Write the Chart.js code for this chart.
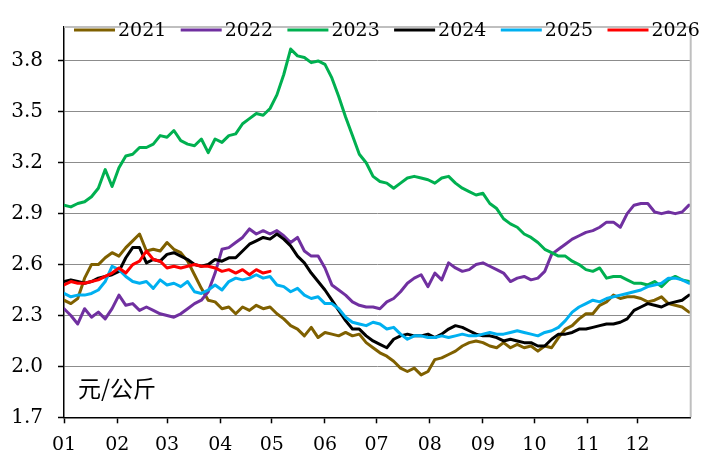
<!DOCTYPE html>
<html><head><meta charset="utf-8">
<script src="https://cdn.jsdelivr.net/npm/chart.js@4.4.1/dist/chart.umd.min.js"></script>
<style>html,body{margin:0;padding:0;background:#fff;}#wrap{width:709px;height:472px;position:relative;}</style>
</head><body><div id="wrap"><canvas id="c"></canvas></div>
<script>
// day of year for each sample
const days = [0,4,8,12,16,20,24,28,32,36,40,44,48,52,56,60,64,68,72,76,80,84,88,92,96,100,104,108,112,116,120,124,128,132,136,140,144,148,152,156,160,164,168,172,176,180,184,188,192,196,200,204,208,212,216,220,224,228,232,236,240,244,248,252,256,260,264,268,272,276,280,284,288,292,296,300,304,308,312,316,320,324,328,332,336,340,344,348,352,356,360,364];
const monthTicks = [0,31,60,91,121,152,182,213,244,274,305,334];
const monthLabels = ['01','02','03','04','05','06','07','08','09','10','11','12'];
const yTicks = [1.7,2.0,2.3,2.6,2.9,3.2,3.5,3.8];
const seriesNames = ['2021','2022','2023','2024','2025','2026'];
const seriesColors = ['#7F6000','#7030A0','#00B050','#000000','#00B0F0','#FF0000'];
const unitLabel = '元/公斤';

const v2021 = [2.39,2.37,2.40,2.52,2.60,2.60,2.64,2.67,2.65,2.70,
2.74,2.78,2.68,2.69,2.68,2.73,2.69,2.67,2.62,2.54,
2.46,2.39,2.38,2.34,2.35,2.31,2.35,2.33,2.36,2.34,
2.35,2.31,2.28,2.24,2.22,2.18,2.23,2.17,2.20,2.19,
2.18,2.20,2.18,2.19,2.14,2.11,2.08,2.06,2.03,1.99,
1.97,1.99,1.95,1.97,2.04,2.05,2.07,2.09,2.12,2.14,
2.15,2.14,2.12,2.11,2.14,2.11,2.13,2.11,2.12,2.09,
2.12,2.11,2.17,2.22,2.24,2.28,2.31,2.31,2.36,2.38,
2.42,2.40,2.41,2.41,2.40,2.38,2.39,2.41,2.37,2.36,
2.35,2.32];
const v2022 = [2.34,2.30,2.25,2.34,2.29,2.32,2.28,2.34,2.42,2.36,
2.37,2.33,2.35,2.33,2.31,2.30,2.29,2.31,2.34,2.37,
2.39,2.44,2.55,2.69,2.70,2.73,2.76,2.81,2.78,2.80,
2.78,2.80,2.77,2.73,2.76,2.68,2.65,2.65,2.58,2.48,
2.45,2.42,2.38,2.36,2.35,2.35,2.34,2.38,2.40,2.44,
2.49,2.52,2.54,2.47,2.55,2.51,2.61,2.58,2.56,2.57,
2.60,2.61,2.59,2.57,2.55,2.50,2.52,2.53,2.51,2.52,
2.56,2.66,2.69,2.72,2.75,2.77,2.79,2.80,2.82,2.85,
2.85,2.82,2.90,2.95,2.96,2.96,2.91,2.90,2.91,2.90,
2.91,2.95];
const v2023 = [2.95,2.94,2.96,2.97,3.00,3.05,3.16,3.06,3.17,3.24,
3.25,3.29,3.29,3.31,3.36,3.35,3.39,3.33,3.31,3.30,
3.34,3.26,3.34,3.32,3.36,3.37,3.43,3.46,3.49,3.48,
3.52,3.60,3.72,3.87,3.83,3.82,3.79,3.80,3.78,3.70,
3.59,3.47,3.36,3.25,3.20,3.12,3.09,3.08,3.05,3.08,
3.11,3.12,3.11,3.10,3.08,3.11,3.12,3.08,3.05,3.03,
3.01,3.02,2.96,2.93,2.87,2.84,2.82,2.78,2.76,2.73,
2.69,2.67,2.65,2.65,2.62,2.60,2.57,2.56,2.58,2.52,
2.53,2.53,2.51,2.49,2.49,2.48,2.50,2.47,2.51,2.53,
2.51,2.50];
const v2024 = [2.50,2.51,2.50,2.49,2.50,2.52,2.53,2.54,2.56,2.64,
2.70,2.70,2.61,2.63,2.62,2.66,2.67,2.65,2.63,2.60,
2.59,2.60,2.63,2.62,2.64,2.64,2.68,2.72,2.74,2.76,
2.75,2.78,2.75,2.71,2.65,2.61,2.55,2.50,2.45,2.39,
2.33,2.27,2.22,2.22,2.18,2.15,2.13,2.11,2.16,2.18,
2.19,2.18,2.18,2.19,2.17,2.19,2.22,2.24,2.23,2.21,
2.19,2.18,2.18,2.17,2.15,2.16,2.15,2.14,2.14,2.12,
2.12,2.16,2.19,2.19,2.20,2.22,2.22,2.23,2.24,2.25,
2.25,2.26,2.28,2.33,2.35,2.37,2.36,2.35,2.37,2.38,
2.39,2.42];
const v2025 = [2.43,2.41,2.42,2.42,2.43,2.45,2.50,2.59,2.57,2.53,
2.50,2.49,2.50,2.46,2.51,2.48,2.49,2.47,2.50,2.44,
2.43,2.45,2.48,2.45,2.50,2.52,2.51,2.52,2.54,2.52,
2.53,2.48,2.47,2.44,2.46,2.42,2.40,2.41,2.37,2.37,
2.34,2.29,2.26,2.25,2.24,2.26,2.25,2.22,2.23,2.19,
2.16,2.18,2.18,2.17,2.17,2.18,2.17,2.18,2.19,2.18,
2.18,2.19,2.20,2.19,2.19,2.20,2.21,2.20,2.19,2.18,
2.20,2.21,2.23,2.27,2.32,2.35,2.37,2.39,2.38,2.40,
2.41,2.42,2.43,2.44,2.45,2.47,2.48,2.49,2.52,2.52,
2.51,2.49];
const v2026 = [2.48,2.50,2.49,2.49,2.50,2.51,2.53,2.55,2.58,2.55,
2.60,2.62,2.68,2.63,2.62,2.58,2.59,2.58,2.59,2.60,
2.59,2.59,2.58,2.56,2.57,2.55,2.57,2.54,2.57,2.55,
2.56];
const seriesValues = [v2021,v2022,v2023,v2024,v2025,v2026];

const FONT = 'DejaVu Serif';

const decor = {
  id: 'decor',
  afterDraw(chart) {
    const ctx = chart.ctx, a = chart.chartArea;
    ctx.save();
    // light frame top/right
    ctx.strokeStyle = '#BFBFBF'; ctx.lineWidth = 2;
    ctx.beginPath();
    ctx.moveTo(a.left, a.top); ctx.lineTo(a.right, a.top); ctx.lineTo(a.right, a.bottom);
    ctx.stroke();
    // legend
    ctx.font = '19px "' + FONT + '"';
    ctx.textBaseline = 'middle'; ctx.textAlign = 'left';
    chart.data.datasets.forEach((ds, i) => {
      const x0 = a.left + 10 + i * 106.7, y = 30;
      ctx.strokeStyle = ds.borderColor; ctx.lineWidth = 3;
      ctx.beginPath(); ctx.moveTo(x0, y); ctx.lineTo(x0 + 41, y); ctx.stroke();
      ctx.fillStyle = '#000';
      ctx.fillText(ds.label, x0 + 44, y + 1);
    });
    // unit label
    ctx.font = '23px "Noto Sans CJK SC"';
    ctx.fillStyle = '#000';
    ctx.fillText(unitLabel, a.left + 14, 388);
    ctx.restore();
  }
};

new Chart(document.getElementById('c'), {
  type: 'line',
  data: {
    datasets: seriesNames.map((name, i) => ({
      label: name,
      data: seriesValues[i].map((v, k) => ({x: days[k], y: v})),
      borderColor: seriesColors[i],
      backgroundColor: seriesColors[i],
      borderWidth: 3,
      pointRadius: 0,
      tension: 0,
      borderJoinStyle: 'round',
      borderCapStyle: 'round',
      order: 5 - i
    }))
  },
  options: {
    responsive: true, maintainAspectRatio: false, animation: false,
    layout: { padding: { top: 13, right: 18.3, left: 0, bottom: 0 } },
    plugins: { legend: { display: false }, tooltip: { enabled: false } },
    scales: {
      x: {
        type: 'linear', min: 0, max: 365,
        afterBuildTicks: s => { s.ticks = monthTicks.map(v => ({value: v})); },
        afterFit: s => { s.height = 54.7; },
        ticks: { autoSkip: false, maxRotation: 0, padding: 10, color: '#000',
          font: { family: FONT, size: 19 },
          callback: v => monthLabels[monthTicks.indexOf(v)] },
        grid: { drawOnChartArea: false, drawTicks: true, tickLength: 6, tickColor: '#000', tickWidth: 1.5 },
        border: { display: true, color: '#000', width: 1.5 }
      },
      y: {
        min: 1.7, max: 4.0,
        afterBuildTicks: s => { s.ticks = yTicks.map(v => ({value: v})); },
        afterFit: s => { s.width = 64; },
        ticks: { padding: 15, color: '#000', font: { family: FONT, size: 20 },
          callback: v => v.toFixed(1) },
        grid: { color: '#8C8C8C', lineWidth: 1, drawTicks: true, tickLength: 6, tickColor: '#000', tickWidth: 1.5 },
        border: { display: true, color: '#000', width: 1.5 }
      }
    }
  },
  plugins: [decor]
});
</script>
</body></html>
